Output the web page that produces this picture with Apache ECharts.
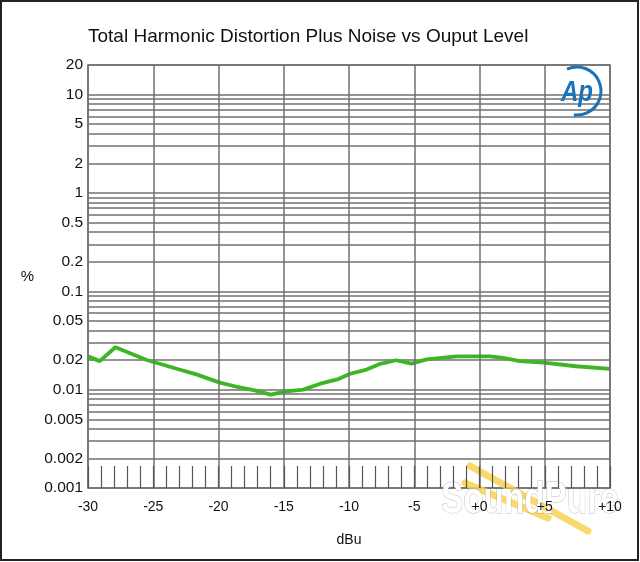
<!DOCTYPE html>
<html>
<head>
<meta charset="utf-8">
<script src="https://cdn.jsdelivr.net/npm/echarts@6/dist/echarts.min.js"></script>
<style>
  html, body { margin: 0; padding: 0; background: #fff; }
  #chart { width: 640px; height: 562px; }
</style>
</head>
<body>
<div id="chart"></div>
<script>
// output level (dBu) and THD+N (%)
var levelDbu = [-30, -29.1, -27.9, -25.5, -23.2, -21.7, -19.9, -18.6, -17.3, -16.0, -14.8, -13.5, -12.2, -10.9,
  -9.9, -8.65, -7.6, -6.4, -5.2, -4.05, -1.75, 0.8, 1.8, 3.1, 4.9, 7.4, 10];
var thdnPct = [0.0218, 0.0195, 0.027, 0.0200, 0.0163, 0.0143, 0.0118, 0.0107, 0.0099, 0.0089, 0.0096, 0.0100, 0.0115, 0.0127,
  0.0145, 0.0160, 0.0183, 0.0199, 0.0184, 0.0203, 0.0218, 0.0218, 0.0210, 0.0195, 0.0188, 0.0173, 0.0163];

// log grid lines and the ones that get a label
var yGridLines = [20, 10, 9, 8, 7, 6, 5, 4, 3, 2, 1, 0.9, 0.8, 0.7, 0.6, 0.5, 0.4, 0.3, 0.2,
  0.1, 0.09, 0.08, 0.07, 0.06, 0.05, 0.04, 0.03, 0.02, 0.01, 0.009, 0.008, 0.007, 0.006, 0.005,
  0.004, 0.003, 0.002, 0.001];
var yLabels = [20, 10, 5, 2, 1, 0.5, 0.2, 0.1, 0.05, 0.02, 0.01, 0.005, 0.002, 0.001];

var gridColor = "#707070";
var myChart = echarts.init(document.getElementById("chart"));

var points = levelDbu.map(function (x, i) { return [x, thdnPct[i]]; });

var markData = yGridLines.map(function (v) {
  return {
    yAxis: v,
    label: { show: yLabels.indexOf(v) >= 0, formatter: String(v) }
  };
});

var option = {
  animation: false,
  backgroundColor: "#fff",
  title: {
    text: "Total Harmonic Distortion Plus Noise vs Ouput Level",
    left: 83,
    top: 22,
    textStyle: { fontFamily: "Liberation Sans", fontSize: 19, fontWeight: "normal", color: "#111" }
  },
  grid: {
    left: 88, right: 30, top: 65, bottom: 74,
    show: true, borderColor: gridColor, borderWidth: 1.5, backgroundColor: "#fff"
  },
  xAxis: {
    type: "value",
    min: -30, max: 10, interval: 5,
    z: 10,
    name: "dBu",
    nameLocation: "middle",
    nameGap: 45,
    nameTextStyle: { fontFamily: "Liberation Sans", fontSize: 14, color: "#111" },
    axisLine: { show: false },
    axisTick: { show: true, inside: true, length: 22, lineStyle: { color: "#555", width: 1.2 } },
    minorTick: { show: true, splitNumber: 5, length: 22, lineStyle: { color: "#555", width: 1.2 } },
    splitLine: { show: true, lineStyle: { color: gridColor, width: 1.5 } },
    axisLabel: {
      margin: 12,
      fontFamily: "Liberation Sans", fontSize: 14, color: "#111",
      formatter: function (v) { return v >= 0 ? "+" + v : String(v); }
    }
  },
  yAxis: {
    type: "log",
    logBase: 10,
    min: 0.001, max: 20,
    name: "%",
    nameLocation: "middle",
    nameRotate: 0,
    nameGap: 54,
    nameTextStyle: { fontFamily: "Liberation Sans", fontSize: 15, color: "#111" },
    axisLine: { show: false },
    axisTick: { show: false },
    axisLabel: { show: false },
    splitLine: { show: false }
  },
  series: [{
    type: "line",
    data: points,
    symbol: "none",
    lineStyle: { color: "#3db524", width: 3.8 },
    z: 5,
    markLine: {
      silent: true,
      precision: 6,
      symbol: ["none", "none"],
      animation: false,
      lineStyle: { type: "solid", color: gridColor, width: 1.5 },
      label: {
        position: "start",
        distance: 5,
        fontFamily: "Liberation Sans", fontSize: 15.5, color: "#111"
      },
      data: markData
    }
  }],
  graphic: [
    // outer frame
    { type: "rect", x: 1, y: 1, shape: { width: 637, height: 559 },
      style: { fill: "none", stroke: "#222", lineWidth: 2 }, z: 100 },
    // AP logo
    { type: "arc", x: 577, y: 91, shape: { r: 24, startAngle: -2.0, endAngle: 1.7 },
      style: { stroke: "#1a72b8", lineWidth: 3, fill: "none" }, z: 50 },
    { type: "text", x: 561, y: 78, scaleX: 0.8,
      style: { text: "Ap", font: "italic bold 30px 'Liberation Sans'", fill: "#1a72b8" }, z: 50 },
    // watermark
    { type: "line", shape: { x1: 470, y1: 466, x2: 588, y2: 531 },
      style: { stroke: "rgba(248,210,80,0.85)", lineWidth: 7, lineCap: "round" }, z: 6 },
    { type: "line", shape: { x1: 465, y1: 483, x2: 548, y2: 518 },
      style: { stroke: "rgba(248,210,80,0.85)", lineWidth: 7, lineCap: "round" }, z: 6 },
    { type: "text", x: 441, y: 478, scaleX: 0.74,
      style: { text: "SoundPure", font: "bold 45px 'Liberation Sans'",
        fill: "#ffffff", stroke: "rgba(120,120,120,0.5)", lineWidth: 1,
        shadowColor: "rgba(0,0,0,0.55)", shadowBlur: 4, shadowOffsetX: 1, shadowOffsetY: 1 }, z: 7 }
  ]
};

window.onresize = myChart.resize;
myChart.setOption(option);
</script>
</body>
</html>
